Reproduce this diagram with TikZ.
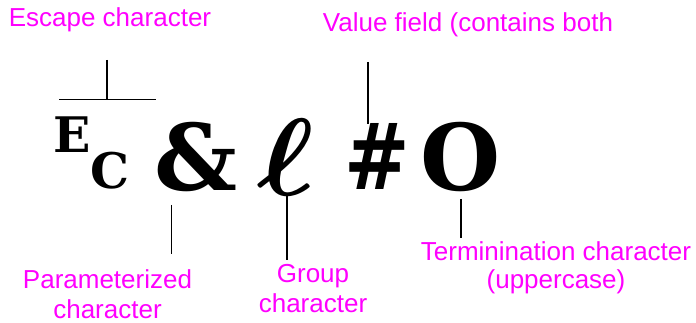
\documentclass[tikz,border=0pt]{standalone}
\usepackage{fontspec}
\setmainfont{Liberation Sans}
\newfontfamily\glyphfam{DejaVu Serif}
\usepackage{amsmath,amssymb}
\usepackage{graphicx}
\usetikzlibrary{positioning,calc}
\definecolor{lblmagenta}{RGB}{255,0,255}
\newcommand{\glyphfont}[1]{\glyphfam\bfseries\fontsize{#1}{#1}\selectfont}

\begin{document}
\begin{tikzpicture}[
    x=1pt, y=-1pt,
    label/.style={text=lblmagenta, font=\fontsize{26}{30.5}\selectfont,
                  align=center, inner sep=0pt},
    big/.style={inner sep=0pt, font=\glyphfont{92}},
    small/.style={inner sep=0pt, font=\glyphfont{49}},
    lead/.style={draw=black, line width=1.8pt}
]
\useasboundingbox (0,0) rectangle (696,323);
% command characters
\node[small, anchor=base west] (escE) at (53,153) {E};
\node[small, anchor=base west] (escC) at (90,189) {C};
\node[big, anchor=base west] (amp) at (154,191) {\&};
\node[inner sep=0pt] (ell) at (286,157) {\scalebox{12}[11]{$\boldsymbol{\ell}$}};
\node[big, anchor=base west] (hash) at (344,190) {\scalebox{0.85}[1]{\#}};
\node[big, anchor=base west] (term) at (420,190.5) {O};
% labels
\node[label, anchor=base] (escLbl) at (110,27) {Escape character};
\node[label, anchor=base] (valLbl) at (468,32) {Value field (contains both};
\node[label, anchor=north] (parLbl) at (107.5,269) {Parameterized\\character};
\node[label, anchor=north] (grpLbl) at (313,264) {Group\\character};
\node[label, anchor=north, font=\fontsize{26}{28}\selectfont] (trmLbl) at (556,241)
     {Terminination character\\(uppercase)};
% leaders
\coordinate (escTop) at (107,60);
\coordinate (escL) at (59,99.5);
\coordinate (escR) at (156,99.5);
\draw[lead] (escL) -- (escR);
\draw[lead] (escTop) -- (escTop |- escL);
\coordinate (valTop) at (368,62);
\draw[lead] (valTop) -- (valTop |- hash.north);
\coordinate (ampA) at (171.5,205);
\coordinate (ampB) at (171.5,254);
\draw[lead] (ampA) -- (ampB);
\coordinate (ellA) at (287,196);
\coordinate (ellB) at (287,260);
\draw[lead] (ellA) -- (ellB);
\coordinate (trmA) at (461,199);
\coordinate (trmB) at (461,238);
\draw[lead] (trmA) -- (trmB);
\end{tikzpicture}
\end{document}
